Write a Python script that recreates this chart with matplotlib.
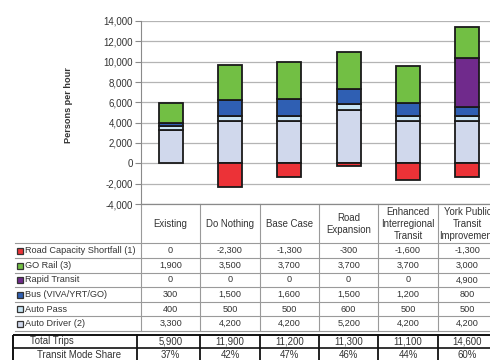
import matplotlib
matplotlib.use("Agg")
import matplotlib.pyplot as plt
import matplotlib.transforms as mtransforms
from matplotlib.patches import Rectangle
from matplotlib.ticker import FuncFormatter
import numpy as np

plt.rcParams['font.family'] = ['Liberation Sans', 'DejaVu Sans']

scenarios = ["Existing", "Do Nothing", "Base Case", "Road\nExpansion",
             "Enhanced\nInterregional\nTransit", "York Public\nTransit\nImprovement"]
shortfall = [0, -2300, -1300, -300, -1600, -1300]
go_rail = [1900, 3500, 3700, 3700, 3700, 3000]
rapid = [0, 0, 0, 0, 0, 4900]
bus = [300, 1500, 1600, 1500, 1200, 800]
auto_pass = [400, 500, 500, 600, 500, 500]
auto_driver = [3300, 4200, 4200, 5200, 4200, 4200]
total_trips = [5900, 11900, 11200, 11300, 11100, 14600]
mode_share = [37, 42, 47, 46, 44, 60]

row_names = ["Road Capacity Shortfall (1)", "GO Rail (3)", "Rapid Transit",
             "Bus (VIVA/YRT/GO)", "Auto Pass", "Auto Driver (2)"]
row_values = [shortfall, go_rail, rapid, bus, auto_pass, auto_driver]
row_colors = ["#ec3237", "#72bf44", "#702a8c", "#2f5fb3", "#c9e6f5", "#d0d8ec"]

W, H = 490, 360
fig = plt.figure(figsize=(W / 100, H / 100), dpi=100)
fig.patch.set_facecolor("white")

# chart area in pixels: x 141..497, y 21..204
ax = fig.add_axes([141 / W, 1 - 204 / H, 356 / W, 183 / H])
x = np.arange(len(scenarios))
width = 0.41
edge = dict(edgecolor="#1a1a1a", linewidth=1.3, zorder=3)

bottom = np.zeros(len(x))
stack = [(auto_driver, row_colors[5]), (auto_pass, row_colors[4]),
         (bus, row_colors[3]), (rapid, row_colors[2]), (go_rail, row_colors[1])]
for vals, col in stack:
    v = np.array(vals, dtype=float)
    ax.bar(x, v, width, bottom=bottom, color=col, **edge)
    bottom += v
neg = np.array(shortfall, dtype=float)
ax.bar(x[neg < 0], neg[neg < 0], width, color=row_colors[0], **edge)

ax.set_xlim(-0.5, len(x) - 0.5)
ax.set_ylim(-4000, 14000)
ax.set_yticks(np.arange(-4000, 14001, 2000))
ax.yaxis.set_major_formatter(FuncFormatter(lambda v, p: f"{int(v):,}"))
ax.set_xticks([])
ax.grid(axis="y", color="#b4b4b4", linewidth=0.9, zorder=0)
ax.set_axisbelow(True)
for s in ["top", "right", "bottom"]:
    ax.spines[s].set_visible(False)
ax.spines["left"].set_color("#8a8a8a")
ax.tick_params(axis="y", length=4, color="#8a8a8a", labelsize=7,
               labelcolor="#333333", pad=2)
ax.set_ylabel("Persons per hour", fontsize=6.6, fontweight="bold",
              color="#333333")
ax.yaxis.set_label_coords((73 - 141) / 356, 0.5 + (183 / 2 - (105 - 21)) / 183)

# overlay in pixel coordinates for the data table
tax = fig.add_axes([0, 0, 1, 1])
tax.set_xlim(0, W)
tax.set_ylim(H, 0)
tax.axis("off")
tax.patch.set_visible(False)
bl = mtransforms.blended_transform_factory(ax.transData, tax.transData)
edges = np.arange(len(x) + 1) - 0.5

lc = "#9a9a9a"
# header row
for e in edges:
    tax.plot([e, e], [204, 331], color=lc, lw=0.8, transform=bl)
tax.plot([-0.5, len(x) - 0.5], [204, 204], color="#8a8a8a", lw=0.9, transform=bl)
for i, name in enumerate(scenarios):
    tax.text(i, 224, name, transform=bl, ha="center", va="center",
             fontsize=6.9, color="#333333", linespacing=1.2)

# data rows
row_lines = [243, 258, 273, 287, 302, 316, 331]
for yl in row_lines:
    tax.plot([15, W + 10], [yl, yl], color=lc, lw=0.8)
for r, (name, vals, col) in enumerate(zip(row_names, row_values, row_colors)):
    yc = (row_lines[r] + row_lines[r + 1]) / 2
    tax.add_patch(Rectangle((17, yc - 3), 6, 6, facecolor=col,
                            edgecolor="#333333", lw=0.9))
    tax.text(25, yc, name, ha="left", va="center", fontsize=6.6, color="#333333")
    for i, v in enumerate(vals):
        tax.text(i, yc, f"{v:,}", transform=bl, ha="center", va="center",
                 fontsize=6.6, color="#333333")

# totals box
tax.add_patch(Rectangle((13, 335), W, 26, facecolor="none",
                        edgecolor="#111111", lw=1.4))
tax.plot([13, W + 10], [348, 348], color="#111111", lw=1.2)
tax.plot([137, 137], [335, 361], color="#111111", lw=1.3)
for e in edges[1:]:
    tax.plot([e, e], [335, 361], color="#111111", lw=1.3, transform=bl)
tax.text(30, 341.5, "Total Trips", ha="left", va="center", fontsize=6.9,
         color="#333333")
tax.text(37, 354.5, "Transit Mode Share", ha="left", va="center", fontsize=6.9,
         color="#333333")
for i in range(len(x)):
    tax.text(i, 341.5, f"{total_trips[i]:,}", transform=bl, ha="center",
             va="center", fontsize=6.9, color="#333333")
    tax.text(i, 354.5, f"{mode_share[i]}%", transform=bl, ha="center",
             va="center", fontsize=6.9, color="#333333")

fig.savefig("out.png", dpi=100)
